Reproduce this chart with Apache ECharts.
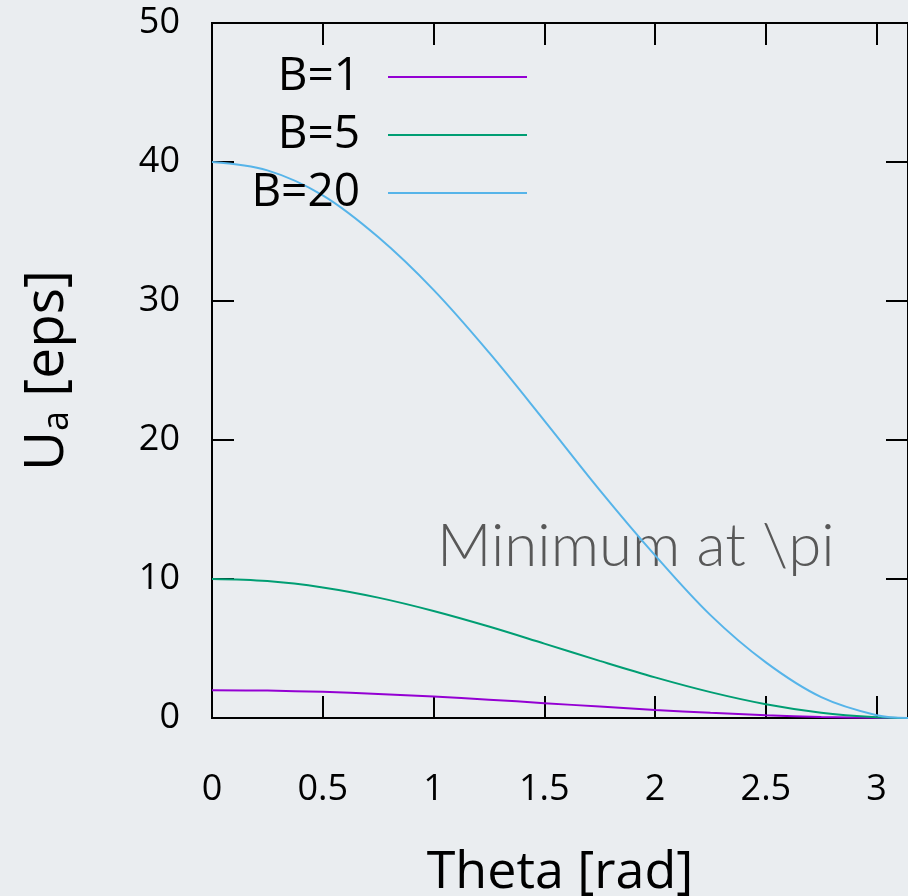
<!DOCTYPE html>
<html>
<head>
<meta charset="utf-8">
<script src="https://cdn.jsdelivr.net/npm/echarts@6/dist/echarts.min.js"></script>
<style>
html,body{margin:0;padding:0;background:#eaedf0;}
#chart{width:908px;height:896px;}
</style>
</head>
<body>
<div id="chart"></div>
<script>
// theta values (rad) and energies
var theta = [0, 0.25, 0.5, 0.75, 1, 1.25, 1.5, 1.75, 2, 2.25, 2.5, 2.75, 3, 3.1416];
var uB1  = [2, 1.97, 1.88, 1.73, 1.54, 1.32, 1.07, 0.82, 0.58, 0.37, 0.2, 0.08, 0.01, 0];
var uB5  = [10, 9.85, 9.39, 8.66, 7.7, 6.58, 5.35, 4.11, 2.92, 1.86, 0.99, 0.38, 0.05, 0];
var uB20 = [40, 39.4, 37.6, 34.6, 30.8, 26.3, 21.4, 16.4, 11.7, 7.4, 4.0, 1.5, 0.2, 0];
var names = ['B=1', 'B=5', 'B=20'];
var colors = ['#9400d3', '#009e73', '#56b4e9'];

function pairs(ys){
	var out = [];
	for(var i = 0; i < theta.length; i++){
		out.push([theta[i], ys[i]]);
	}
	return out;
}

var font = '"Open Sans", sans-serif';
var chart = echarts.init(document.getElementById('chart'));

function lineSeries(i, ys){
	return {
		name: names[i],
		type: 'line',
		data: pairs(ys),
		smooth: 0.35,
		showSymbol: false,
		z: 3,
		lineStyle: {color: colors[i], width: 2},
		itemStyle: {color: colors[i]}
	};
}

function tick(inside){
	return {show: true, inside: inside, length: 22, lineStyle: {color: '#000', width: 2}};
}
function lineAx(zero){
	return {show: true, onZero: zero, lineStyle: {color: '#000', width: 2}};
}
// tick-only axes: mirrors at top/right, and top/right axes pushed onto zero for the bottom/left ticks
function frameX(zero, inside){
	return {
		type: 'value', position: 'top', min: 0, max: 3.1416, interval: 0.5,
		axisLine: lineAx(zero), axisTick: tick(inside),
		axisLabel: {show: false}, splitLine: {show: false}
	};
}
function frameY(zero, inside){
	return {
		type: 'value', position: 'right', min: 0, max: 50, interval: 10,
		axisLine: lineAx(zero), axisTick: tick(inside),
		axisLabel: {show: false}, splitLine: {show: false}
	};
}

chart.setOption({
	backgroundColor: '#eaedf0',
	animation: false,
	color: colors,
	grid: {
		left: 212, top: 23, right: 0, bottom: 178,
		outerBoundsMode: 'none', containLabel: false,
		show: true, borderColor: '#000', borderWidth: 2, backgroundColor: 'transparent'
	},
	legend: {
		orient: 'vertical',
		left: 205,
		top: 49,
		align: 'right',
		icon: 'rect',
		itemWidth: 139,
		itemHeight: 2,
		itemGap: 12,
		data: names,
		textStyle: {fontFamily: font, fontSize: 46, color: '#000', width: 150, align: 'right', lineHeight: 46, padding: [0, 23, 0, 0]}
	},
	xAxis: [{
		type: 'value', min: 0, max: 3.1416, interval: 0.5,
		name: 'Theta [rad]', nameLocation: 'middle', nameGap: 129,
		nameTextStyle: {fontFamily: font, fontSize: 52, color: '#000'},
		axisLine: lineAx(false), axisTick: {show: false},
		axisLabel: {fontFamily: font, fontSize: 36, color: '#000', margin: 54, showMaxLabel: false},
		splitLine: {show: false}
	}, frameX(false, true), frameX(true, false)],
	yAxis: [{
		type: 'value', min: 0, max: 50, interval: 10,
		name: '{u|U}{s|a}{u| [eps]}', nameLocation: 'middle', nameGap: 136, nameRotate: 90,
		nameTextStyle: {
			rich: {
				u: {fontFamily: font, fontSize: 55, color: '#000'},
				s: {fontFamily: font, fontSize: 36, color: '#000', padding: [22, 0, 0, 0]}
			}
		},
		axisLine: lineAx(false), axisTick: {show: false},
		axisLabel: {fontFamily: font, fontSize: 36, color: '#000', margin: 32, padding: [20, 0, 0, 0]},
		splitLine: {show: false}
	}, frameY(false, true), frameY(true, false)],
	graphic: [{
		type: 'text',
		left: 437,
		top: 517,
		style: {text: 'Minimum at \\pi', fontFamily: 'Lato, sans-serif', fontWeight: 300, fontSize: 60, fill: '#585858'}
	}],
	series: [lineSeries(0, uB1), lineSeries(1, uB5), lineSeries(2, uB20)]
});
</script>
</body>
</html>
